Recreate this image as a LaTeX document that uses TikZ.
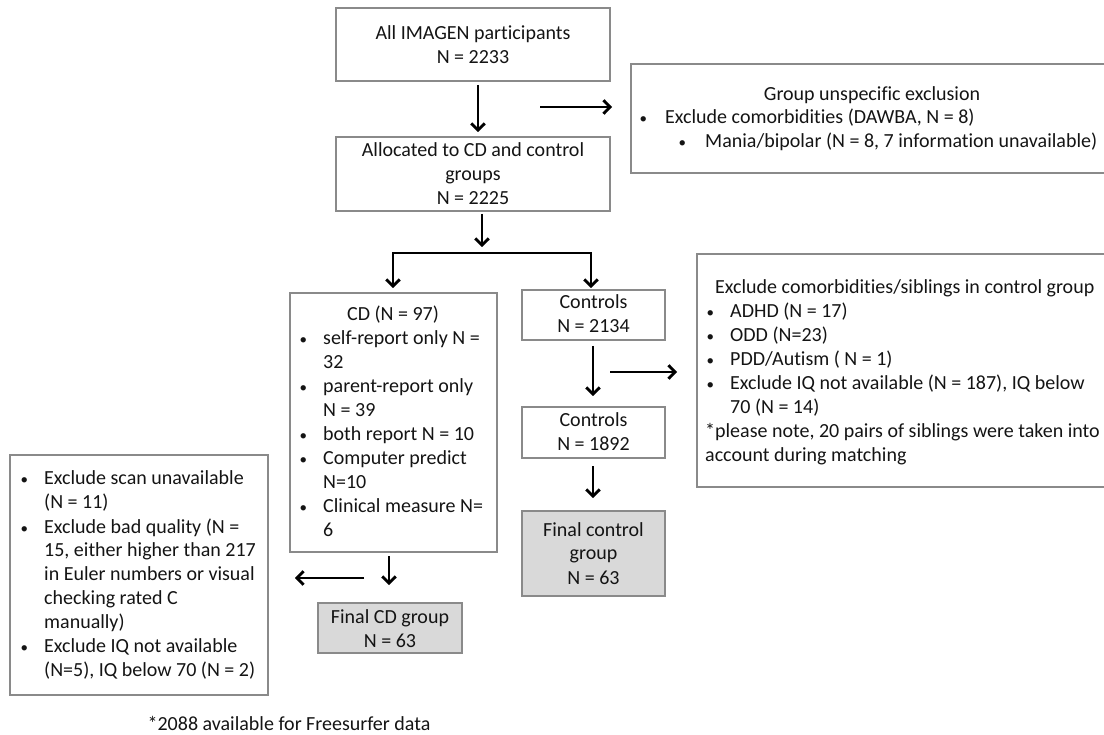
\documentclass[tikz,border=0pt]{standalone}
\usepackage{fontspec}
\setmainfont{Carlito}[RawFeature={-liga}]
\usetikzlibrary{arrows.meta}

\definecolor{boxline}{HTML}{8A8A8A}
\definecolor{ink}{HTML}{141414}
\definecolor{finalfill}{HTML}{D9D9D9}

\tikzset{
  box/.style={draw=boxline, line width=2pt, rectangle, inner sep=0pt},
  finalbox/.style={box, fill=finalfill},
  arr/.style={draw=black, line width=2.9pt, line join=miter,
    -{Straight Barb[length=6.5pt,width=13.5pt]}},
  arrtwo/.style={draw=black, line width=2.9pt, line join=miter,
    {Straight Barb[length=6.5pt,width=13.5pt]}-{Straight Barb[length=6.5pt,width=13.5pt]}},
  txt/.style={inner sep=0pt, text=ink, font=\fontsize{20}{24}\selectfont},
}

% small list bullet
\newcommand\blt{{\fontsize{15}{15}\selectfont\textbullet}}

% box node from its corner coordinates: [style]{name}{x1}{y1}{x2}{y2}
\newcommand\mkbox[6][box]{%
  \node[#1, minimum width={(#5-#3)*1pt}, minimum height={(#6-#4)*1pt}]
    (#2) at ({(#3+#5)/2},{(#4+#6)/2}) {};}

\begin{document}
\begin{tikzpicture}[x=1pt,y=-1pt]
\useasboundingbox (0,0) rectangle (1104,735);
\clip (0,0) rectangle (1104,735);

% boxes
\mkbox{all}{336}{8}{610}{81}
\mkbox{alloc}{336}{137}{610}{211}
\mkbox{gu}{631}{64}{1112}{173}
\mkbox{cd}{290}{293}{497}{552}
\mkbox{ctrlA}{522}{290}{665}{340}
\mkbox{ctrlB}{522}{407}{665}{458}
\mkbox{sib}{697}{254}{1112}{487}
\mkbox{scan}{10}{455}{268}{695}
\mkbox[finalbox]{finalcd}{318}{603}{462}{653}
\mkbox[finalbox]{finalctrl}{522}{511}{665}{596}

% texts
\node[txt, anchor=base] (t-all) at (473,40)
  {\begin{tabular}[t]{@{}c@{}}All IMAGEN participants\\N = 2233\end{tabular}};
\node[txt, anchor=base] (t-alloc) at (473,157)
  {\begin{tabular}[t]{@{}c@{}}Allocated to CD and control\\groups\\N = 2225\end{tabular}};

\node[txt, anchor=base] (t-gu) at (872,101) {Group unspecific exclusion};
\node[txt, anchor=base west] (t-gu1) at (639.5,124)
  {\begin{tabular}[t]{@{}p{25.5pt}@{}l@{}}\blt & Exclude comorbidities (DAWBA, N = 8)\end{tabular}};
\node[txt, anchor=base west] (t-gu2) at (678.5,148)
  {\begin{tabular}[t]{@{}p{26.5pt}@{}l@{}}\blt & Mania/bipolar (N = 8, 7 information unavailable)\end{tabular}};

\node[txt, anchor=base] (t-cdhead) at (393,321) {CD (N = 97)};
\node[txt, anchor=base west] (t-cd) at (299.5,345)
  {\begin{tabular}[t]{@{}p{23.5pt}@{}l@{}}
    \blt & self-report only N =\\
         & 32\\
    \blt & parent-report only\\
         & N = 39\\
    \blt & both report N = 10\\
    \blt & Computer predict\\
         & N=10\\
    \blt & Clinical measure N=\\
         & 6
  \end{tabular}};

\node[txt, anchor=base] (t-ctrlA) at (593.5,309)
  {\begin{tabular}[t]{@{}c@{}}Controls\\N = 2134\end{tabular}};
\node[txt, anchor=base] (t-ctrlB) at (593.5,427)
  {\begin{tabular}[t]{@{}c@{}}Controls\\N = 1892\end{tabular}};
\node[txt, anchor=base] (t-finalctrl) at (593.5,536)
  {\begin{tabular}[t]{@{}c@{}}Final control\\group\\N = 63\end{tabular}};
\node[txt, anchor=base] (t-finalcd) at (390,623)
  {\begin{tabular}[t]{@{}c@{}}Final CD group\\N = 63\end{tabular}};

\node[txt, anchor=base west] (t-sibhead) at (715,294)
  {Exclude comorbidities/siblings in control group};
\node[txt, anchor=base west] (t-sib) at (706.5,318)
  {\begin{tabular}[t]{@{}p{23.5pt}@{}l@{}}
    \blt & ADHD (N = 17)\\
    \blt & ODD (N=23)\\
    \blt & PDD/Autism ( N = 1)\\
    \blt & Exclude IQ not available (N = 187), IQ below\\
         & 70 (N = 14)\\
    \multicolumn{2}{@{}l@{}}{\hspace{-1.5pt}*please note, 20 pairs of siblings were taken into}\\
    \multicolumn{2}{@{}l@{}}{\hspace{-1.5pt}account during matching}
  \end{tabular}};

\node[txt, anchor=base west] (t-scan) at (20.5,485)
  {\begin{tabular}[t]{@{}p{23.5pt}@{}l@{}}
    \blt & Exclude scan unavailable\\
         & (N = 11)\\
    \blt & Exclude bad quality (N =\\
         & 15, either higher than 217\\
         & in Euler numbers or visual\\
         & checking rated C\\
         & manually)\\
    \blt & Exclude IQ not available\\
         & (N=5), IQ below 70 (N = 2)
  \end{tabular}};

\node[txt, anchor=base] (t-foot) at (289,730) {*2088 available for Freesurfer data};

% connector end points
\coordinate (gu-from) at (540,107);
\coordinate (gu-to) at (612,107);
\coordinate (split) at (482,247);
\coordinate (brL) at (393,253);
\coordinate (brR) at (591,253);
\coordinate (cd-in) at (393,288);
\coordinate (ctrl-in) at (591,288);
\coordinate (sib-from) at (610,372);
\coordinate (sib-to) at (677,372);
\coordinate (scan-from) at (364,578);
\coordinate (scan-to) at (295,578);

% connectors
\draw[arr] ([xshift=5pt,yshift=-3pt]all.south) -- ([xshift=5pt,yshift=4pt]alloc.north);
\draw[arr] (gu-from) -- (gu-to);
\draw[arr] ([xshift=9pt,yshift=-2pt]alloc.south) -- (split);
\draw[arrtwo] (cd-in) -- (brL) -- (brR) -- (ctrl-in);
\draw[arr] ([xshift=-0.5pt,yshift=-5pt]ctrlA.south) -- ([xshift=-0.5pt,yshift=10pt]ctrlB.north);
\draw[arr] (sib-from) -- (sib-to);
\draw[arr] ([xshift=-0.5pt,yshift=-7pt]ctrlB.south) -- ([xshift=-0.5pt,yshift=12pt]finalctrl.north);
\draw[arr] ([xshift=-4.5pt,yshift=-3pt]cd.south) -- ([xshift=-1pt,yshift=17pt]finalcd.north);
\draw[arr] (scan-from) -- (scan-to);

\end{tikzpicture}
\end{document}
